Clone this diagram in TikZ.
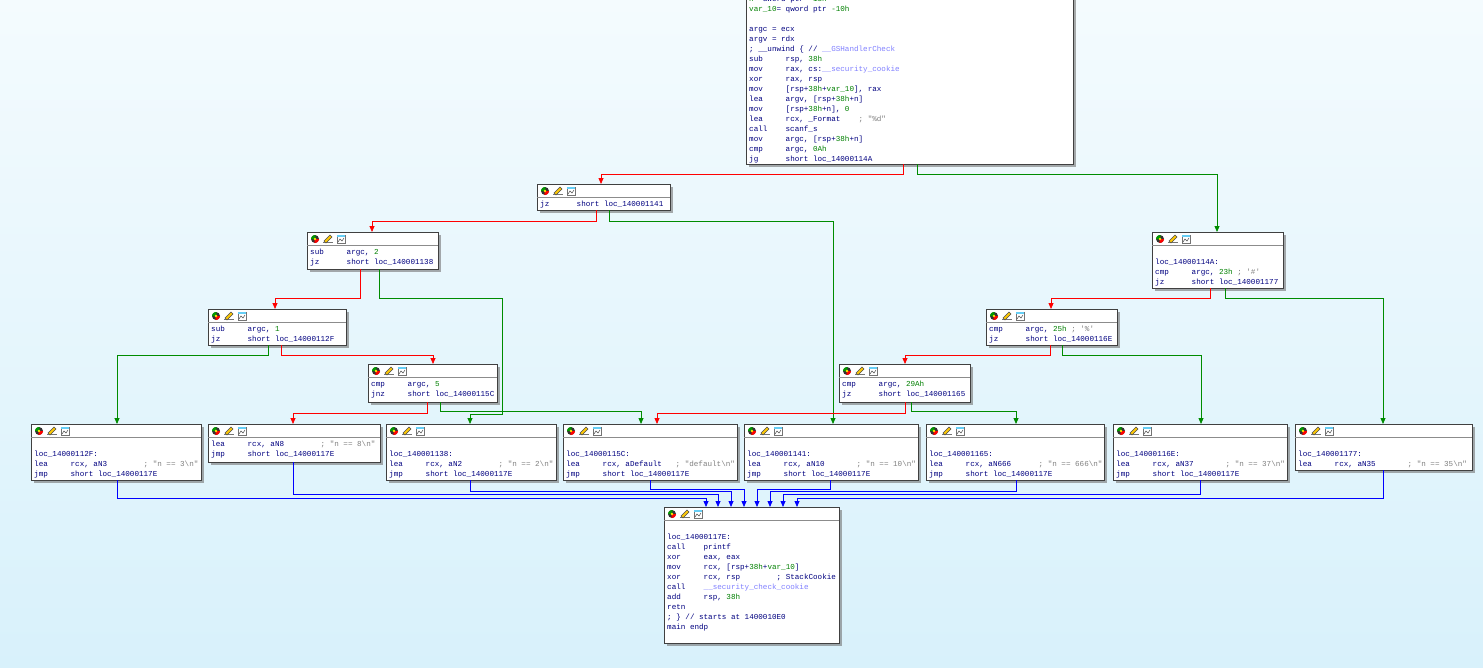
\documentclass[tikz,border=0pt]{standalone}
\usepackage{fontspec}
\setmonofont{Liberation Mono}
\usepackage{xcolor}
\usepackage{tikz}
\usetikzlibrary{arrows.meta, calc, shadows}
\definecolor{idanavy}{RGB}{0, 0, 128}
\definecolor{idagreen}{RGB}{0, 128, 0}
\definecolor{idagray}{RGB}{128, 128, 128}
\definecolor{idalav}{RGB}{128, 128, 255}
\definecolor{edgered}{RGB}{255, 0, 0}
\definecolor{edgegreen}{RGB}{0, 140, 0}
\definecolor{edgeblue}{RGB}{0, 0, 255}
\definecolor{bgtop}{RGB}{244, 251, 254}
\definecolor{bgbottom}{RGB}{216, 241, 251}

\newlength\cw
\newcommand\idafont{\ttfamily\fontsize{7.6pt}{10pt}\selectfont}
\AtBeginDocument{\settowidth\cw{\idafont 0}}
\newcommand\mn[2]{\makebox[8\cw][l]{#1}#2}
\newcommand\cmt[2]{\makebox[24\cw][l]{#1}\textcolor{idagray}{#2}}
\newcommand\num[1]{\textcolor{idagreen}{#1}}
\newcommand\imp[1]{\textcolor{idalav}{#1}}

% header icons of a block
\newcommand\icons[1]{%
  \begin{scope}[shift={(#1.north west)}]
    \fill[black!80] (8,7) circle (4);
    \fill[edgered] (8,7) -- ++(4,0) arc[start angle=0, end angle=100, radius=4] -- cycle;
    \fill[green!60!black] (8,7) -- ++(-4,0) arc[start angle=180, end angle=280, radius=4] -- cycle;
    \fill[yellow!90!orange] (8,7) circle (1.3);
    \fill[black!55] (16,10) rectangle (26,11);
    \filldraw[fill=yellow!60!orange, draw=black!70, line width=0.4] (17,9) -- (23,3) -- (25,5) -- (19,11) -- cycle;
    \filldraw[fill=white, draw=black!55, line width=0.5] (30,3) rectangle (38,11);
    \fill[cyan!60] (30,3) rectangle (38,5);
    \draw[black!70, line width=0.5] (31,10) -- (33,7) -- (35,9) -- (37,6);
  \end{scope}}
\newcommand\idablock[6]{%
  \node[blk, minimum width=#4, minimum height=#5] (#1) at (#2,#3) {};
  \draw[hdr] ($(#1.north west)+(0,13)$) -- ($(#1.north east)+(0,13)$);
  \icons{#1}
  \node[code] (#1-txt) at ($(#1.north west)+(3,15)$) {#6};}

\begin{document}
\begin{tikzpicture}[
    x=1pt, y=-1pt,
    blk/.style={rectangle, draw=black!75, line width=0.8pt, fill=white, anchor=north west, inner sep=0, outer sep=0,
      drop shadow={shadow xshift=3pt, shadow yshift=-3pt, fill=black!55, opacity=0.6}},
    hdr/.style={draw=black!45, line width=0.5pt},
    code/.style={anchor=north west, inner sep=0, align=left, font=\idafont, text=idanavy},
    tip/.style={-{Triangle[length=6pt, width=5pt]}},
    redge/.style={tip, draw=edgered, line width=0.8pt},
    gedge/.style={tip, draw=edgegreen, line width=0.8pt},
    bedge/.style={tip, draw=edgeblue, line width=0.8pt}
]
    \useasboundingbox (0,0) rectangle (1483,667);
    \clip (0,0) rectangle (1483,667);
    \shade[top color=bgtop, bottom color=bgbottom] (0,0) rectangle (1483,667);

    % entry block
    \idablock{top}{746}{-21}{327}{185}{\strut\num{n}= dword ptr \num{-18h}\\
      \num{var\_10}= qword ptr \num{-10h}\\
      \strut\\
      argc = ecx\\
      argv = rdx\\
      ; \_\_unwind \{ // \imp{\_\_GSHandlerCheck}\\
      \mn{sub}{rsp, \num{38h}}\\
      \mn{mov}{rax, cs:\imp{\_\_security\_cookie}}\\
      \mn{xor}{rax, rsp}\\
      \mn{mov}{[rsp+\num{38h}+\num{var\_10}], rax}\\
      \mn{lea}{argv, [rsp+\num{38h}+n]}\\
      \mn{mov}{[rsp+\num{38h}+n], \num{0}}\\
      \cmt{\mn{lea}{rcx, \_Format}}{; "\%d"}\\
      \mn{call}{scanf\_s}\\
      \mn{mov}{argc, [rsp+\num{38h}+n]}\\
      \mn{cmp}{argc, \num{0Ah}}\\
      \mn{jg}{short loc\_14000114A}}

    % compare blocks
    \idablock{jz141}{537}{184}{133}{26}{\strut\mn{jz}{short loc\_140001141}}
    \idablock{sub2}{307}{232}{131}{37}{\strut\mn{sub}{argc, \num{2}}\\
      \mn{jz}{short loc\_140001138}}
    \idablock{sub1}{208}{309}{138}{36}{\strut\mn{sub}{argc, \num{1}}\\
      \mn{jz}{short loc\_14000112F}}
    \idablock{cmp5}{368}{364}{129}{38}{\strut\mn{cmp}{argc, \num{5}}\\
      \mn{jnz}{short loc\_14000115C}}
    \idablock{cmp29A}{839}{364}{131}{38}{\strut\mn{cmp}{argc, \num{29Ah}}\\
      \mn{jz}{short loc\_140001165}}
    \idablock{cmp25}{986}{309}{131}{36}{\strut\mn{cmp}{argc, \num{25h} \textcolor{idagray}{; '\%'}}\\
      \mn{jz}{short loc\_14000116E}}
    \idablock{loc14A}{1152}{232}{131}{56}{\strut\\
      loc\_14000114A:\\
      \mn{cmp}{argc, \num{23h} \textcolor{idagray}{; '\#'}}\\
      \mn{jz}{short loc\_140001177}}

    % case blocks
    \idablock{loc12F}{31}{424}{170}{56}{\strut\\
      loc\_14000112F:\\
      \cmt{\mn{lea}{rcx, aN3}}{; "n == 3\textbackslash n"}\\
      \mn{jmp}{short loc\_14000117E}}
    \idablock{leaN8}{208}{424}{172}{38}{\strut\cmt{\mn{lea}{rcx, aN8}}{; "n == 8\textbackslash n"}\\
      \mn{jmp}{short loc\_14000117E}}
    \idablock{loc138}{386}{424}{170}{56}{\strut\\
      loc\_140001138:\\
      \cmt{\mn{lea}{rcx, aN2}}{; "n == 2\textbackslash n"}\\
      \mn{jmp}{short loc\_14000117E}}
    \idablock{loc15C}{563}{424}{174}{56}{\strut\\
      loc\_14000115C:\\
      \cmt{\mn{lea}{rcx, aDefault}}{; "default\textbackslash n"}\\
      \mn{jmp}{short loc\_14000117E}}
    \idablock{loc141}{744}{424}{174}{56}{\strut\\
      loc\_140001141:\\
      \cmt{\mn{lea}{rcx, aN10}}{; "n == 10\textbackslash n"}\\
      \mn{jmp}{short loc\_14000117E}}
    \idablock{loc165}{926}{424}{178}{56}{\strut\\
      loc\_140001165:\\
      \cmt{\mn{lea}{rcx, aN666}}{; "n == 666\textbackslash n"}\\
      \mn{jmp}{short loc\_14000117E}}
    \idablock{loc16E}{1113}{424}{174}{56}{\strut\\
      loc\_14000116E:\\
      \cmt{\mn{lea}{rcx, aN37}}{; "n == 37\textbackslash n"}\\
      \mn{jmp}{short loc\_14000117E}}
    \idablock{loc177}{1295}{424}{177}{46}{\strut\\
      loc\_140001177:\\
      \cmt{\mn{lea}{rcx, aN35}}{; "n == 35\textbackslash n"}}

    % exit block
    \idablock{loc17E}{664}{507}{175}{136}{\strut\\
      loc\_14000117E:\\
      \mn{call}{printf}\\
      \mn{xor}{eax, eax}\\
      \mn{mov}{rcx, [rsp+\num{38h}+\num{var\_10}]}\\
      \makebox[24\cw][l]{\mn{xor}{rcx, rsp}}; StackCookie\\
      \mn{call}{\imp{\_\_security\_check\_cookie}}\\
      \mn{add}{rsp, \num{38h}}\\
      retn\\
      ; \} // starts at 1400010E0\\
      main endp\\
      \strut}

    % conditional edges
    \draw[redge] (top.south -| 903,0) |- (601,174) -- (jz141.north -| 601,0);
    \draw[gedge] (top.south -| 917,0) |- (1217,174) -- (loc14A.north -| 1217,0);
    \draw[redge] (jz141.south -| 596,0) |- (372,221) -- (sub2.north -| 372,0);
    \draw[gedge] (jz141.south -| 609,0) |- (833,221) -- (loc141.north -| 833,0);
    \draw[redge] (sub2.south -| 360,0) |- (275,298) -- (sub1.north -| 275,0);
    \draw[gedge] (sub2.south -| 379,0) |- (502,298) -- (502,414) -| (loc138.north -| 470,0);
    \draw[gedge] (sub1.south -| 268,0) |- (117,355) -- (loc12F.north -| 117,0);
    \draw[redge] (sub1.south -| 281,0) |- (433,355) -- (cmp5.north -| 433,0);
    \draw[redge] (cmp5.south -| 427,0) |- (293,413) -- (leaN8.north -| 293,0);
    \draw[gedge] (cmp5.south -| 440,0) |- (641,411) -- (loc15C.north -| 641,0);
    \draw[redge] (cmp29A.south -| 905,0) |- (657,413) -- (loc15C.north -| 657,0);
    \draw[gedge] (cmp29A.south -| 911,0) |- (1016,411) -- (loc165.north -| 1016,0);
    \draw[redge] (cmp25.south -| 1050,0) |- (905,355) -- (cmp29A.north -| 905,0);
    \draw[gedge] (cmp25.south -| 1062,0) |- (1201,355) -- (loc16E.north -| 1201,0);
    \draw[redge] (loc14A.south -| 1210,0) |- (1051,298) -- (cmp25.north -| 1051,0);
    \draw[gedge] (loc14A.south -| 1225,0) |- (1383,298) -- (loc177.north -| 1383,0);

    % jumps to exit
    \draw[bedge] (loc12F.south -| 117,0) |- (706,498) -- (loc17E.north -| 706,0);
    \draw[bedge] (leaN8.south -| 293,0) |- (718,494) -- (loc17E.north -| 718,0);
    \draw[bedge] (loc138.south -| 470,0) |- (731,491) -- (loc17E.north -| 731,0);
    \draw[bedge] (loc15C.south -| 650,0) |- (744,489) -- (loc17E.north -| 744,0);
    \draw[bedge] (loc141.south -| 830,0) |- (757,489) -- (loc17E.north -| 757,0);
    \draw[bedge] (loc165.south -| 1016,0) |- (770,491) -- (loc17E.north -| 770,0);
    \draw[bedge] (loc16E.south -| 1200,0) |- (783,494) -- (loc17E.north -| 783,0);
    \draw[bedge] (loc177.south -| 1383,0) |- (797,498) -- (loc17E.north -| 797,0);
\end{tikzpicture}
\end{document}
